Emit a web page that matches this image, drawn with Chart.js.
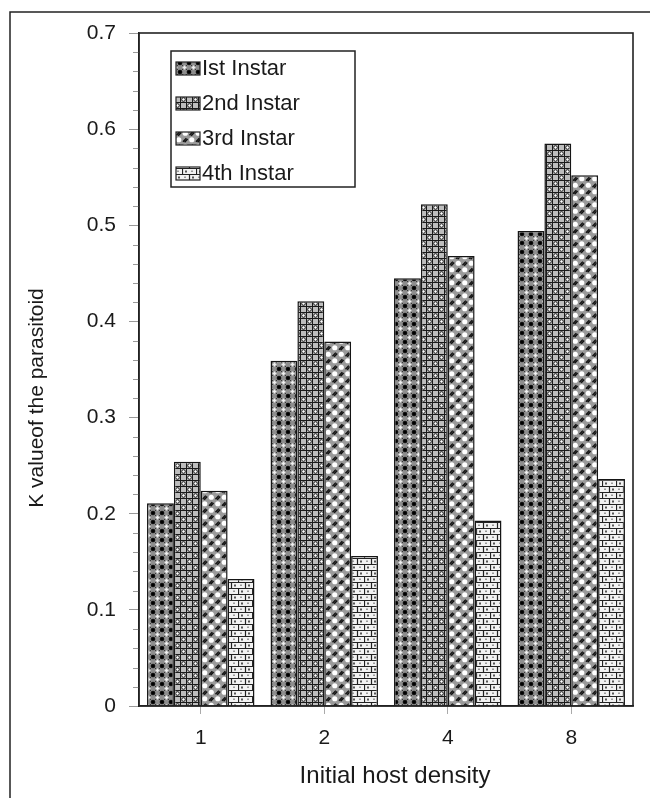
<!DOCTYPE html>
<html>
<head>
<meta charset="utf-8">
<script src="https://cdn.jsdelivr.net/npm/chart.js@4"></script>
<style>
  html, body { margin: 0; padding: 0; background: #fff; }
  #wrap { width: 650px; height: 798px; position: relative; }
</style>
</head>
<body>
<div id="wrap"><canvas id="c" width="650" height="798"></canvas></div>
<script>
// Host density groups and K values per larval instar
const categories = ['1', '2', '4', '8'];
const seriesNames = ['Ist Instar', '2nd Instar', '3rd Instar', '4th Instar'];
const instar1 = [0.211, 0.359, 0.445, 0.494];
const instar2 = [0.254, 0.421, 0.522, 0.585];
const instar3 = [0.224, 0.379, 0.468, 0.552];
const instar4 = [0.132, 0.156, 0.193, 0.236];
const yTickValues = [0, 0.1, 0.2, 0.3, 0.4, 0.5, 0.6, 0.7];
const xTitle = 'Initial host density';
const yTitle = 'K valueof the parasitoid';

const FONT = '"Liberation Sans", Arial, Helvetica, sans-serif';

// ---- fill patterns for the four series ----
function tile(w, h, draw) {
  const cv = document.createElement('canvas');
  cv.width = w; cv.height = h;
  const g = cv.getContext('2d');
  draw(g, w, h);
  return document.getElementById('c').getContext('2d').createPattern(cv, 'repeat');
}
function diamond(g, x, y, r, color) {
  g.fillStyle = color;
  g.beginPath();
  g.moveTo(x, y - r); g.lineTo(x + r, y); g.lineTo(x, y + r); g.lineTo(x - r, y);
  g.closePath(); g.fill();
}

// dark crosshatch with black and white diamonds
const pat1 = tile(9, 9, (g, w, h) => {
  g.fillStyle = '#8e8e8e'; g.fillRect(0, 0, w, h);
  g.strokeStyle = '#3a3a3a'; g.lineWidth = 1;
  g.beginPath(); g.moveTo(0, 0); g.lineTo(w, h); g.moveTo(w, 0); g.lineTo(0, h); g.stroke();
  [[0, 0], [w, 0], [0, h], [w, h]].forEach(p => diamond(g, p[0], p[1], 2.6, '#000'));
  diamond(g, w / 2, h / 2, 2.2, '#eeeeee');
});

// grid with small ringed circles
const pat2 = tile(12, 12, (g, w, h) => {
  g.fillStyle = '#bdbdbd'; g.fillRect(0, 0, w, h);
  g.strokeStyle = '#1a1a1a'; g.lineWidth = 1;
  g.beginPath();
  g.moveTo(0.5, 0); g.lineTo(0.5, h); g.moveTo(6.5, 0); g.lineTo(6.5, h);
  g.moveTo(0, 0.5); g.lineTo(w, 0.5); g.moveTo(0, 6.5); g.lineTo(w, 6.5);
  g.stroke();
  g.fillStyle = '#fff';
  g.beginPath(); g.arc(3.5, 3.5, 1.8, 0, Math.PI * 2); g.fill(); g.stroke();
  g.beginPath(); g.arc(9.5, 9.5, 1.8, 0, Math.PI * 2); g.fill(); g.stroke();
});

// grey with white dots and black slashes
const pat3 = tile(13, 13, (g, w, h) => {
  g.fillStyle = '#9a9a9a'; g.fillRect(0, 0, w, h);
  g.fillStyle = '#fff';
  g.beginPath(); g.arc(3.25, 3.25, 2.6, 0, Math.PI * 2); g.fill();
  g.beginPath(); g.arc(9.75, 9.75, 2.6, 0, Math.PI * 2); g.fill();
  g.strokeStyle = '#111'; g.lineWidth = 1.4;
  g.beginPath();
  g.moveTo(7.5, 5.2); g.lineTo(10.8, 1.6); g.moveTo(9.2, 5.8); g.lineTo(12.2, 2.6);
  g.moveTo(1.0, 11.7); g.lineTo(4.3, 8.1); g.moveTo(2.6, 12.3); g.lineTo(5.6, 9.1);
  g.stroke();
});

// light brick
const pat4 = tile(14, 12, (g, w, h) => {
  g.fillStyle = '#f2f2f2'; g.fillRect(0, 0, w, h);
  g.strokeStyle = '#222'; g.lineWidth = 1.2;
  g.beginPath();
  g.moveTo(0, 0.5); g.lineTo(w, 0.5); g.moveTo(0, 6.5); g.lineTo(w, 6.5);
  g.moveTo(0.5, 0.5); g.lineTo(0.5, 6.5); g.moveTo(7.5, 6.5); g.lineTo(7.5, 12);
  g.stroke();
  g.fillStyle = '#555';
  g.fillRect(3, 2.5, 2, 2); g.fillRect(10, 8.5, 2, 2);
  g.fillStyle = '#999';
  g.fillRect(9, 2.5, 2, 1.5); g.fillRect(2, 8.5, 2, 1.5);
});

const patterns = [pat1, pat2, pat3, pat4];
const seriesValues = [instar1, instar2, instar3, instar4];

// ---- plugins ----
const framePlugin = {
  id: 'frame',
  beforeDraw(chart) {
    const ctx = chart.ctx;
    ctx.save();
    ctx.fillStyle = '#fff';
    ctx.fillRect(0, 0, chart.width, chart.height);
    ctx.strokeStyle = '#222'; ctx.lineWidth = 1.5;
    ctx.beginPath();
    ctx.moveTo(10, chart.height); ctx.lineTo(10, 12); ctx.lineTo(chart.width, 12);
    ctx.stroke();
    ctx.restore();
  }
};

const plotBoxPlugin = {
  id: 'plotBox',
  afterDraw(chart) {
    const { ctx, chartArea: a, scales } = chart;
    ctx.save();
    // minor ticks on the value axis
    const y = scales.y;
    ctx.strokeStyle = '#999'; ctx.lineWidth = 1;
    for (let i = 0; i < yTickValues.length - 1; i++) {
      for (let k = 1; k < 5; k++) {
        const v = yTickValues[i] + (yTickValues[i + 1] - yTickValues[i]) * k / 5;
        const py = Math.round(y.getPixelForValue(v)) + 0.5;
        ctx.beginPath(); ctx.moveTo(a.left - 6, py); ctx.lineTo(a.left, py); ctx.stroke();
      }
    }
    // plot border
    ctx.strokeStyle = '#222'; ctx.lineWidth = 1.6;
    ctx.strokeRect(a.left, a.top, a.right - a.left, a.bottom - a.top);

    // axis titles
    ctx.fillStyle = '#1a1a1a';
    ctx.textAlign = 'center'; ctx.textBaseline = 'middle';
    ctx.font = '24px ' + FONT;
    ctx.fillText(xTitle, 395, 776);
    ctx.font = '21px ' + FONT;
    ctx.save();
    ctx.translate(37, 398); ctx.rotate(-Math.PI / 2);
    ctx.fillText(yTitle, 0, 0);
    ctx.restore();

    // legend box
    const bx = 171, by = 51, bw = 184, bh = 136;
    ctx.strokeStyle = '#222'; ctx.lineWidth = 1.5;
    ctx.fillStyle = '#fff';
    ctx.fillRect(bx, by, bw, bh);
    ctx.strokeRect(bx, by, bw, bh);
    ctx.font = '22px ' + FONT;
    ctx.textAlign = 'left';
    chart.data.datasets.forEach((ds, i) => {
      const cy = 68 + i * 35;
      ctx.fillStyle = ds.backgroundColor;
      ctx.fillRect(176, cy - 6, 24, 13);
      ctx.lineWidth = 1.2;
      ctx.strokeRect(176, cy - 6, 24, 13);
      ctx.fillStyle = '#1a1a1a';
      ctx.fillText(ds.label, 202, cy + 1);
    });
    ctx.restore();
  }
};

new Chart(document.getElementById('c'), {
  type: 'bar',
  data: {
    labels: categories,
    datasets: seriesNames.map((name, i) => ({
      label: name,
      data: seriesValues[i],
      backgroundColor: patterns[i],
      borderColor: '#151515',
      borderWidth: 1.5,
      categoryPercentage: 0.87,
      barPercentage: 1.0
    }))
  },
  options: {
    responsive: false,
    animation: false,
    devicePixelRatio: 1,
    layout: { padding: { top: 33, right: 17, left: 0, bottom: 0 } },
    plugins: { legend: { display: false }, tooltip: { enabled: false } },
    scales: {
      x: {
        grid: { display: true, offset: false, drawOnChartArea: false, tickLength: 8, color: '#aaa' },
        border: { display: true, color: '#222', width: 1.5 },
        ticks: { font: { family: FONT, size: 21 }, color: '#1a1a1a', padding: 12 },
        afterFit(s) { s.height = 92; }
      },
      y: {
        min: 0, max: 0.7,
        afterBuildTicks(s) { s.ticks = yTickValues.map(v => ({ value: v })); },
        grid: { display: true, drawOnChartArea: false, tickLength: 10, color: '#999' },
        border: { display: true, color: '#222', width: 1.5 },
        ticks: {
          font: { family: FONT, size: 21 }, color: '#1a1a1a', padding: 13,
          callback: v => (v === 0 ? '0' : Number(v).toFixed(1))
        },
        afterFit(s) { s.width = 139; }
      }
    }
  },
  plugins: [framePlugin, plotBoxPlugin]
});
</script>
</body>
</html>
